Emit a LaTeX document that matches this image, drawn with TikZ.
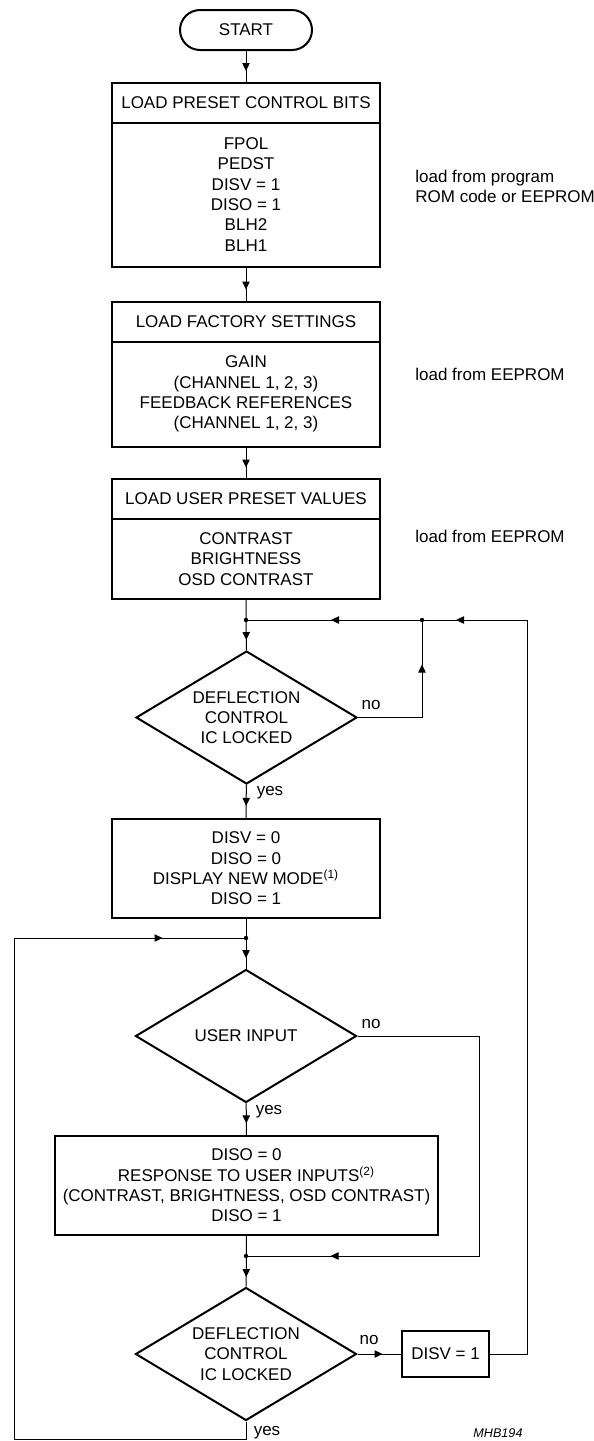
\documentclass[tikz,border=0pt]{standalone}
\usepackage{fontspec}
\setmainfont{Liberation Sans}
\usepackage{tikz}
\usetikzlibrary{
    arrows.meta,
    positioning,
    shapes.geometric,
    decorations.markings,
}

\newcommand{\flowsize}{\fontsize{8.5pt}{10.15pt}\selectfont}

\begin{document}
\begin{tikzpicture}[
        x=0.5pt, y=-0.5pt,
        font=\flowsize,
        terminal/.style={
            rectangle, rounded corners=10pt, draw, line width=1pt,
            minimum width=66pt, minimum height=20pt, inner sep=0pt
        },
        header/.style={
            rectangle, draw, line width=1pt, outer sep=0pt,
            minimum width=134pt, minimum height=20pt, inner sep=0pt
        },
        panel/.style={
            rectangle, draw, line width=1pt, align=center, outer sep=0pt,
            minimum width=134pt, inner sep=0pt
        },
        decision/.style={
            diamond, draw, line width=1pt, align=center, shape aspect=1.66,
            minimum width=110.5pt, minimum height=66.5pt, inner sep=0pt
        },
        conn/.style={line width=0.5pt},
        arr/.style={postaction={decorate, decoration={markings,
            mark=at position #1 with {\arrow{Triangle[length=4pt, width=3.7pt]}}}}},
        note/.style={align=left, anchor=west, inner sep=0pt},
        lbl/.style={inner sep=0pt},
    ]
    \useasboundingbox (0,0) rectangle (594,1441);

    % -- start and preset loading --
    \node[terminal] (start) at (246,30) {START};

    \node[header] (pre) at (246,102.5) {LOAD PRESET CONTROL BITS};
    \node[panel, minimum height=72pt, below=0pt of pre] (preBody)
        {FPOL\\PEDST\\DISV = 1\\DISO = 1\\BLH2\\BLH1};
    \node[note] (preNote) at (415,186.5) {load from program\\ROM code or EEPROM};

    \node[header] (fac) at (246,321.5) {LOAD FACTORY SETTINGS};
    \node[panel, minimum height=52.5pt, below=0pt of fac] (facBody)
        {GAIN\\(CHANNEL 1, 2, 3)\\FEEDBACK REFERENCES\\(CHANNEL 1, 2, 3)};
    \node[note] (facNote) at (415,374) {load from EEPROM};

    \node[header] (usr) at (246,499) {LOAD USER PRESET VALUES};
    \node[panel, minimum height=40pt, below=0pt of usr] (usrBody)
        {CONTRAST\\BRIGHTNESS\\OSD CONTRAST};
    \node[note] (usrNote) at (415,536) {load from EEPROM};

    % -- lock check and mode --
    \node[decision] (lockA) at (246.5,717.5) {DEFLECTION\\CONTROL\\IC LOCKED};
    \node[panel, minimum height=49.5pt] (mode) at (246,868.5)
        {DISV = 0\\DISO = 0\\DISPLAY NEW MODE\textsuperscript{(1)}\\DISO = 1};

    % -- user loop --
    \node[decision] (input) at (246,1036) {USER INPUT};
    \node[panel, minimum width=191.5pt, minimum height=49.5pt] (resp) at (246.5,1185.5)
        {DISO = 0\\RESPONSE TO USER INPUTS\textsuperscript{(2)}\\(CONTRAST, BRIGHTNESS, OSD CONTRAST)\\DISO = 1};
    \node[decision] (lockB) at (246,1354) {DEFLECTION\\CONTROL\\IC LOCKED};
    \node[panel, minimum width=43.5pt, minimum height=23pt] (disv) at (445.5,1354) {DISV = 1};

    % -- labels --
    \node[lbl] (noA) at (371,705) {no};
    \node[lbl] (yesA) at (270,793) {yes};
    \node[lbl] (noB) at (371,1024) {no};
    \node[lbl] (yesB) at (269,1112) {yes};
    \node[lbl] (noC) at (369,1340) {no};
    \node[lbl] (yesC) at (267,1433) {yes};
    \node[lbl, font=\fontsize{6.3pt}{7pt}\selectfont\itshape] (code) at (498,1433) {MHB194};

    % -- junctions --
    \coordinate (j1) at (246,620);
    \coordinate (k1) at (422,620);
    \coordinate (rt) at (527,620);
    \coordinate (j2) at (246,938);
    \coordinate (nb) at (479,1256);
    \coordinate (j3) at (246,1256);
    \coordinate (lb) at (14,1439);

    % -- connectors --
    \draw[conn, arr=10pt] (start) -- (pre);
    \draw[conn, arr=11.5pt] (preBody) -- (fac);
    \draw[conn, arr=10.5pt] (facBody) -- (usr);
    \draw[conn, arr=20.5pt] (usrBody) -- (lockA);
    \draw[conn, arr=10.5pt] (lockA) -- (mode);
    \draw[conn, arr=58.5pt] (lockA.east) -| (k1);
    \draw[conn, arr=20pt] (mode) -- (input);
    \draw[conn, arr=10pt] (input) -- (resp);
    \draw[conn, arr=245pt] (input.east) -| (nb) -- (j3);
    \draw[conn, arr=21pt] (resp) -- (lockB);
    \draw[conn, arr=12.5pt] (lockB.east) -- (disv.west);
    \draw[conn, arr=421.5pt, arr=484pt] (disv.east) -| (rt) -- (k1) -- (j1);
    \draw[conn, arr=449.5pt] (lockB.south) |- (lb) |- (j2);

    \foreach \j in {j1, k1, j2, j3}
        \fill (\j) circle (1.1pt);

\end{tikzpicture}
\end{document}
